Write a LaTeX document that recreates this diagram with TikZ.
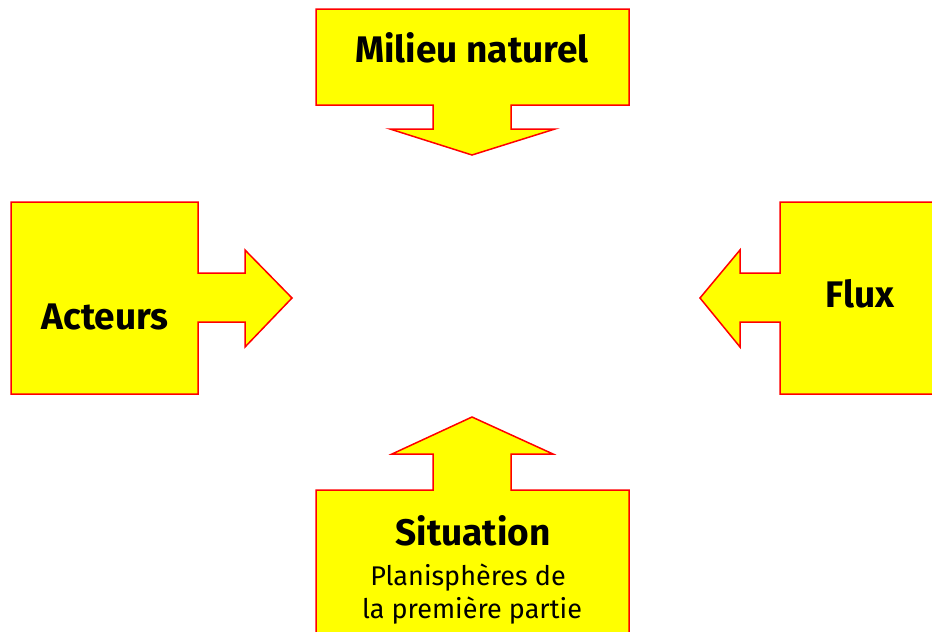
\documentclass[tikz,border=0pt]{standalone}
\usepackage{fontspec}
\setmainfont{Fira Sans}
\usepackage{xcolor}
\usepackage{tikz}

\definecolor{boxyellow}{RGB}{255,255,0}

\begin{document}
\begin{tikzpicture}[
        x=1pt, y=-1pt,
        block/.style={draw=red, fill=boxyellow, line width=1.5pt, line join=miter},
        title/.style={font=\fontsize{37}{40}\selectfont\bfseries, anchor=base},
        sub/.style={font=\fontsize{27}{30}\selectfont, anchor=base}
    ]
        \clip (0,0) rectangle (932,632);
        \useasboundingbox (0,0) rectangle (932,632);

        % top block, arrow down
        \draw[block] (316,9) -- (629,9) -- (629,105) -- (511,105) -- (511,129) -- (555,129)
            -- (472,155) -- (390,129) -- (433,129) -- (433,105) -- (316,105) -- cycle;
        % left block, arrow right
        \draw[block] (11,202) -- (198,202) -- (198,273) -- (245,273) -- (245,250) -- (292,298)
            -- (245,347) -- (245,322) -- (198,322) -- (198,394) -- (11,394) -- cycle;
        % right block, arrow left
        \draw[block] (945,202) -- (780,202) -- (780,273) -- (740,273) -- (740,250) -- (700,298)
            -- (740,347) -- (740,322) -- (780,322) -- (780,394) -- (945,394) -- cycle;
        % bottom block, arrow up
        \draw[block] (472,417) -- (553,454) -- (511,454) -- (511,490) -- (629,490) -- (629,645)
            -- (316,645) -- (316,490) -- (433,490) -- (433,454) -- (392,454) -- cycle;

        \node[title] (milieu) at (472,62) {Milieu naturel};
        \node[title] (acteurs) at (105,329) {Acteurs};
        \node[title] (flux) at (860,307) {Flux};
        \node[title] (situation) at (473,545) {Situation};
        \node[sub] (planis) at (468,585) {Planisphères de};
        \node[sub] (partie) at (472,618) {la première partie};
    \end{tikzpicture}
\end{document}
